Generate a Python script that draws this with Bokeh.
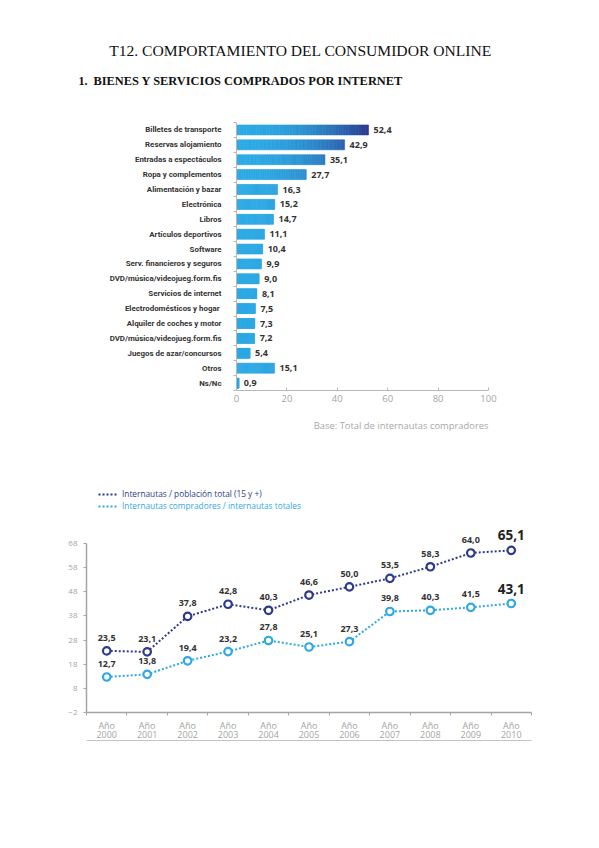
from bokeh.plotting import figure
from bokeh.models import Range1d, FixedTicker, LinearAxis, Legend, LegendItem, Title
from bokeh.embed import file_html
from bokeh.resources import INLINE
from bokeh.core.properties import value

# ---------------- data ----------------
PAGE_TITLE = "T12. COMPORTAMIENTO DEL CONSUMIDOR ONLINE"
SECTION_NUMBER = "1."
SECTION_TITLE = "BIENES Y SERVICIOS COMPRADOS POR INTERNET"

bar_categories = [
    "Billetes de transporte",
    "Reservas alojamiento",
    "Entradas a espectáculos",
    "Ropa y complementos",
    "Alimentación y bazar",
    "Electrónica",
    "Libros",
    "Artículos deportivos",
    "Software",
    "Serv. financieros y seguros",
    "DVD/música/videojueg.form.fis",
    "Servicios de internet",
    "Electrodomésticos  y hogar",
    "Alquiler de coches y motor",
    "DVD/música/videojueg.form.fis",
    "Juegos de azar/concursos",
    "Otros",
    "Ns/Nc",
]
bar_values = [52.4, 42.9, 35.1, 27.7, 16.3, 15.2, 14.7, 11.1, 10.4, 9.9, 9.0,
              8.1, 7.5, 7.3, 7.2, 5.4, 15.1, 0.9]
bar_ticks = [0, 20, 40, 60, 80, 100]
bar_note = "Base: Total de internautas compradores"

years = [2000, 2001, 2002, 2003, 2004, 2005, 2006, 2007, 2008, 2009, 2010]
year_prefix = "Año"
series_total = [23.5, 23.1, 37.8, 42.8, 40.3, 46.6, 50.0, 53.5, 58.3, 64.0, 65.1]
series_buyers = [12.7, 13.8, 19.4, 23.2, 27.8, 25.1, 27.3, 39.8, 40.3, 41.5, 43.1]
series_total_name = "Internautas / población total (15 y +)"
series_buyers_name = "Internautas compradores / internautas totales"
line_yticks = [-2, 8, 18, 28, 38, 48, 58, 68]

# ---------------- styles ----------------
W = 599
DARK = "#2e3a8c"
LIGHT = "#2fa9e3"
AXIS_GRAY = "#b8b8b8"
TICK_GRAY = "#a4a4a4"
SANS = "Open Sans"


def fmt(v):
    return f"{v:.1f}".replace(".", ",")


# ---------------- header ----------------
HDR_H = 98
hdr = figure(width=W, height=HDR_H, x_range=Range1d(0, W), y_range=Range1d(HDR_H, 0),
             x_axis_location=None, y_axis_location=None, min_border=0,
             output_backend="svg", toolbar_location=None)
hdr.grid.visible = False
hdr.outline_line_color = None
hdr.text(x=[300], y=[50], text=[PAGE_TITLE], text_align="center", text_baseline="middle",
         text_font=value("Liberation Serif"), text_font_size="15.6px", text_color="#111111")
hdr.text(x=[78], y=[80], text=[SECTION_NUMBER], text_align="left", text_baseline="middle",
         text_font=value("Liberation Serif"), text_font_size="12px", text_font_style="bold",
         text_color="#111111")
hdr.text(x=[93], y=[80], text=[SECTION_TITLE], text_align="left", text_baseline="middle",
         text_font=value("Liberation Serif"), text_font_size="12.4px", text_font_style="bold",
         text_color="#111111")

# ---------------- bar chart ----------------
n = len(bar_values)
idx = list(range(n))
bp = figure(width=W, height=352, x_range=Range1d(0, 100), y_range=Range1d(n - 0.5, -0.5),
            min_border_left=236, min_border_right=111, min_border_top=24, min_border_bottom=60,
            output_backend="svg", toolbar_location=None)
bp.grid.visible = False
bp.outline_line_color = None

light_rgb = (44, 170, 229)
dark_rgb = (43, 56, 143)
vmax = max(bar_values)


def shade(xv):
    t = min(xv / vmax, 1.0) ** 2.2
    return "#%02x%02x%02x" % tuple(round(a + (b - a) * t) for a, b in zip(light_rgb, dark_rgb))


K = 40
seg_l, seg_r, seg_y, seg_c = [], [], [], []
for i, v in enumerate(bar_values):
    for j in range(K):
        l = v * j / K
        r = v * (j + 1) / K
        seg_l.append(l)
        seg_r.append(r)
        seg_y.append(i)
        seg_c.append(shade((l + r) / 2))
bp.hbar(y=seg_y, left=seg_l, right=seg_r, height=0.67, fill_color=seg_c,
        line_color=seg_c, line_width=0.6)

bp.text(x=bar_values, y=idx, text=[fmt(v) for v in bar_values], x_offset=5,
        text_align="left", text_baseline="middle", text_font=value(SANS),
        text_font_size="9px", text_font_style="bold", text_color="#333333")

bp.xaxis.ticker = FixedTicker(ticks=bar_ticks)
bp.xaxis.axis_line_color = AXIS_GRAY
bp.xaxis.major_tick_line_color = AXIS_GRAY
bp.xaxis.major_tick_in = 3
bp.xaxis.major_tick_out = 0
bp.xaxis.minor_tick_line_color = None
bp.xaxis.major_label_text_color = TICK_GRAY
bp.xaxis.major_label_text_font = SANS
bp.xaxis.major_label_text_font_size = "9.5px"
bp.xaxis.major_label_standoff = 4

bp.yaxis.ticker = FixedTicker(ticks=idx, minor_ticks=[i + 0.5 for i in range(-1, n)])
bp.yaxis.major_label_overrides = {i: c for i, c in enumerate(bar_categories)}
bp.yaxis.axis_line_color = AXIS_GRAY
bp.yaxis.major_tick_line_color = None
bp.yaxis.minor_tick_line_color = AXIS_GRAY
bp.yaxis.minor_tick_in = 0
bp.yaxis.minor_tick_out = 3
bp.yaxis.major_label_standoff = 9
bp.yaxis.major_label_text_font = "Roboto"
bp.yaxis.major_label_text_font_style = "bold"
bp.yaxis.major_label_text_font_size = "7.9px"
bp.yaxis.major_label_text_color = "#333333"

bp.add_layout(Title(text=bar_note, align="right", text_font=SANS, text_font_size="9.4px",
                    text_font_style="normal", text_color="#a8a8a8", standoff=25), "below")

# ---------------- line chart ----------------
xs = list(range(len(years)))
lp = figure(width=W, height=305, x_range=Range1d(-0.5, len(years) - 0.5), y_range=Range1d(-2, 94),
            min_border_left=86, min_border_right=68, min_border_top=30, min_border_bottom=43,
            output_backend="svg", toolbar_location=None)
lp.grid.visible = False
lp.outline_line_color = None

r_total = lp.line(xs, series_total, line_color=DARK, line_width=2, line_dash="2 2")
lp.scatter(xs, series_total, marker="circle", size=7.5, line_color=DARK, line_width=2.2,
           fill_color="white")
r_buyers = lp.line(xs, series_buyers, line_color=LIGHT, line_width=2, line_dash="2 2")
lp.scatter(xs, series_buyers, marker="circle", size=7.5, line_color=LIGHT, line_width=2.2,
           fill_color="white")

for ser in (series_total, series_buyers):
    lp.text(x=xs[:-1], y=ser[:-1], text=[fmt(v) for v in ser[:-1]], y_offset=-13,
            text_align="center", text_baseline="middle", text_font=value(SANS),
            text_font_size="9px", text_font_style="bold", text_color="#333333")
    lp.text(x=xs[-1:], y=ser[-1:], text=[fmt(v) for v in ser[-1:]], y_offset=-15,
            text_align="center", text_baseline="middle", text_font=value(SANS),
            text_font_size="13.5px", text_font_style="bold", text_color="#222222")

for rend, name, col, loc in ((r_total, series_total_name, DARK, (12, 213)),
                             (r_buyers, series_buyers_name, LIGHT, (12, 201))):
    leg = Legend(items=[LegendItem(label=name, renderers=[rend])], location=loc,
                 glyph_width=20, glyph_height=10, label_height=10, label_standoff=4,
                 padding=0, margin=0, spacing=0, border_line_color=None,
                 background_fill_alpha=0, label_text_font=SANS, label_text_font_size="8.3px",
                 label_text_color=col)
    lp.add_layout(leg)

# first bottom axis: axis line, boundary ticks and the "Año" line of the labels
lp.xaxis.ticker = FixedTicker(ticks=xs, minor_ticks=[i + 0.5 for i in range(-1, len(xs))])
lp.xaxis.major_label_overrides = {i: year_prefix for i in xs}
lp.xaxis.major_tick_line_color = None
lp.xaxis.minor_tick_line_color = TICK_GRAY
lp.xaxis.minor_tick_in = 0
lp.xaxis.minor_tick_out = 3
lp.xaxis.axis_line_color = TICK_GRAY
lp.xaxis.axis_line_width = 1.5
lp.xaxis.major_label_text_color = TICK_GRAY
lp.xaxis.major_label_text_font = SANS
lp.xaxis.major_label_text_font_size = "9px"
lp.xaxis.major_label_standoff = 0

# second bottom axis: the year numbers
year_axis = LinearAxis(ticker=FixedTicker(ticks=xs),
                       major_label_overrides={i: str(y) for i, y in zip(xs, years)},
                       axis_line_color=None, major_tick_line_color=None,
                       minor_tick_line_color=None, major_tick_in=0, major_tick_out=0,
                       major_label_standoff=-4, major_label_text_color=TICK_GRAY,
                       major_label_text_font=SANS, major_label_text_font_size="9px")
lp.add_layout(year_axis, "below")

# third bottom axis: only its line, the grey rule under the chart
rule = LinearAxis(ticker=FixedTicker(ticks=[0]), major_label_overrides={0: " "},
                  axis_line_color="#c4c4c4", axis_line_width=1.2,
                  major_tick_line_color=None, minor_tick_line_color=None,
                  major_tick_in=0, major_tick_out=0, major_label_standoff=0,
                  major_label_text_font_size="2px")
lp.add_layout(rule, "below")

lp.yaxis.ticker = FixedTicker(ticks=line_yticks)
lp.yaxis.bounds = (-2, 68)
lp.yaxis.major_tick_out = 3
lp.yaxis.major_tick_in = 0
lp.yaxis.major_tick_line_color = TICK_GRAY
lp.yaxis.minor_tick_line_color = None
lp.yaxis.axis_line_color = TICK_GRAY
lp.yaxis.axis_line_width = 1.5
lp.yaxis.major_label_text_color = TICK_GRAY
lp.yaxis.major_label_text_font = SANS
lp.yaxis.major_label_text_font_size = "8px"
lp.yaxis.major_label_standoff = 6

open("out.html", "w").write(file_html([hdr, bp, lp], INLINE))
